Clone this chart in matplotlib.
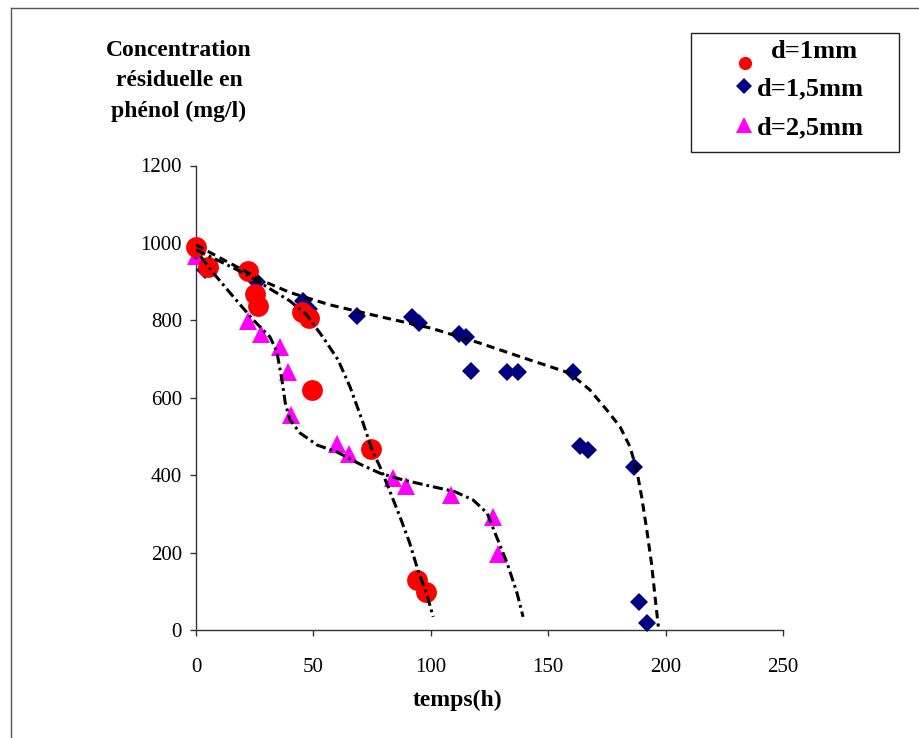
import matplotlib
matplotlib.use("Agg")
import matplotlib.pyplot as plt
from matplotlib.lines import Line2D
from matplotlib.patches import Rectangle

# points mesurés (temps en h, concentration en mg/l)
red_t = [0, 5, 22, 25, 26.5, 45, 48, 49.5, 74.5, 94, 98]
red_c = [990, 937, 928, 868, 837, 822, 805, 620, 468, 129, 98]

blue_t = [0, 4, 26, 45.5, 48, 68.5, 92, 94.8, 112, 115, 117, 132.5, 137, 160.5,
          163.5, 167, 186.5, 188.7, 192]
blue_c = [980, 930, 900, 850, 830, 810, 808, 793, 764, 758, 669, 666, 666, 666,
          476, 466, 421, 72, 18]

mag_t = [0, 22, 27.5, 35.8, 39, 40.5, 60, 65, 84, 89.5, 108.8, 126.3, 128.5]
mag_c = [965, 797, 764, 730, 667, 556, 480, 455, 393, 372, 348, 293, 196]

# courbes de tendance
fit1_t = [0, 10, 21, 30, 40, 47, 54, 60.5, 65.6, 70.7, 75, 78.4, 81.8, 86.9,
          91, 94.5, 98.4, 101]
fit1_c = [982, 953, 920, 887, 850, 815, 757, 698, 628, 543, 465, 421, 370, 292,
          225, 155, 90, 34]

fit15_t = [0, 10, 20, 28, 40, 57, 78, 100, 121, 142, 159, 167.8, 175, 180.6,
           184.8, 187.7, 189.8, 192, 194, 195.5, 196.9]
fit15_c = [995, 962, 930, 903, 872, 840, 810, 780, 741, 698, 664, 620, 568, 525,
           474, 413, 344, 258, 172, 86, 9]

fit25_t = [2, 7.4, 15.9, 24.4, 31.5, 34.4, 36.6, 38, 40, 44.3, 51.5, 60, 70,
           78.4, 88, 101, 110, 118, 124, 128, 132.5, 136.7, 139.3]
fit25_c = [965, 922, 861, 801, 757, 720, 646, 587, 543, 509, 478, 460, 428,
           405, 388, 370, 358, 336, 302, 241, 173, 96, 34]

legend_labels = ["d=1mm", "d=1,5mm", "d=2,5mm"]

plt.rcParams['font.family'] = ['Liberation Serif', 'DejaVu Serif']

W, H = 919, 738
fig = plt.figure(figsize=(W / 100, H / 100), dpi=100)
ax = fig.add_axes([196 / W, 1 - 630 / H, (783 - 196) / W, (630 - 165.5) / H])

ax.plot(mag_t, mag_c, linestyle='none', marker='^', ms=12.5, color='#FF00FF',
        markeredgewidth=0, clip_on=False, zorder=3)
ax.plot(blue_t, blue_c, linestyle='none', marker='D', ms=9.5, color='#000080',
        markeredgewidth=0, clip_on=False, zorder=3)
ax.plot(red_t, red_c, linestyle='none', marker='o', ms=15, color='#FF0000',
        markeredgewidth=0, clip_on=False, zorder=4)

ax.plot(fit15_t, fit15_c, color='black', lw=2.2, dashes=(2.7, 1.7), zorder=5)
ax.plot(fit1_t, fit1_c, color='black', lw=2.2, dashes=(3.3, 1.3, 0.9, 1.3), zorder=5)
ax.plot(fit25_t, fit25_c, color='black', lw=2.2, dashes=(3.3, 1.3, 0.9, 1.3), zorder=5)

ax.set_xlim(0, 250)
ax.set_ylim(0, 1200)
ax.set_xticks(range(0, 251, 50))
ax.set_yticks(range(0, 1201, 200))
for s in ['top', 'right']:
    ax.spines[s].set_visible(False)
for s in ['left', 'bottom']:
    ax.spines[s].set_color('#333333')
    ax.spines[s].set_linewidth(1)
ax.tick_params(axis='x', direction='out', length=4, width=1, pad=16, labelsize=15, colors='#333333', labelcolor='black')
ax.tick_params(axis='y', direction='out', length=4, width=1, pad=6, labelsize=15, colors='#333333', labelcolor='black')

fig.text(457 / W, 1 - 700 / H, "temps(h)", ha='center', va='center',
         fontsize=17, fontweight='bold')
fig.text(179 / W, 1 - 81 / H, "Concentration\nrésiduelle en\nphénol (mg/l)",
         ha='center', va='center', multialignment='center', linespacing=1.6,
         fontsize=17, fontweight='bold')

# cadre extérieur
fig.add_artist(Line2D([11 / W, 11 / W], [0, 1 - 8 / H], color='#555555', lw=1))
fig.add_artist(Line2D([11 / W, 1], [1 - 8 / H, 1 - 8 / H], color='#555555', lw=1))

# légende
fig.add_artist(Rectangle((691 / W, 1 - 152 / H), (899 - 691) / W, (152 - 33) / H,
                         transform=fig.transFigure, fill=False, ec='#222222', lw=1))
fig.add_artist(Line2D([745 / W], [1 - 63 / H], marker='o', ms=9.5, color='#FF0000',
                      markeredgewidth=0, linestyle='none'))
fig.add_artist(Line2D([744 / W], [1 - 86 / H], marker='D', ms=8, color='#000080',
                      markeredgewidth=0, linestyle='none'))
fig.add_artist(Line2D([744 / W], [1 - 125 / H], marker='^', ms=11, color='#FF00FF',
                      markeredgewidth=0, linestyle='none'))
fig.text(771 / W, 1 - 58 / H, legend_labels[0], ha='left', va='baseline',
         fontsize=19, fontweight='bold')
fig.text(757 / W, 1 - 95 / H, legend_labels[1], ha='left', va='baseline',
         fontsize=19, fontweight='bold')
fig.text(757 / W, 1 - 134 / H, legend_labels[2], ha='left', va='baseline',
         fontsize=19, fontweight='bold')

fig.savefig("out.png", dpi=100)
